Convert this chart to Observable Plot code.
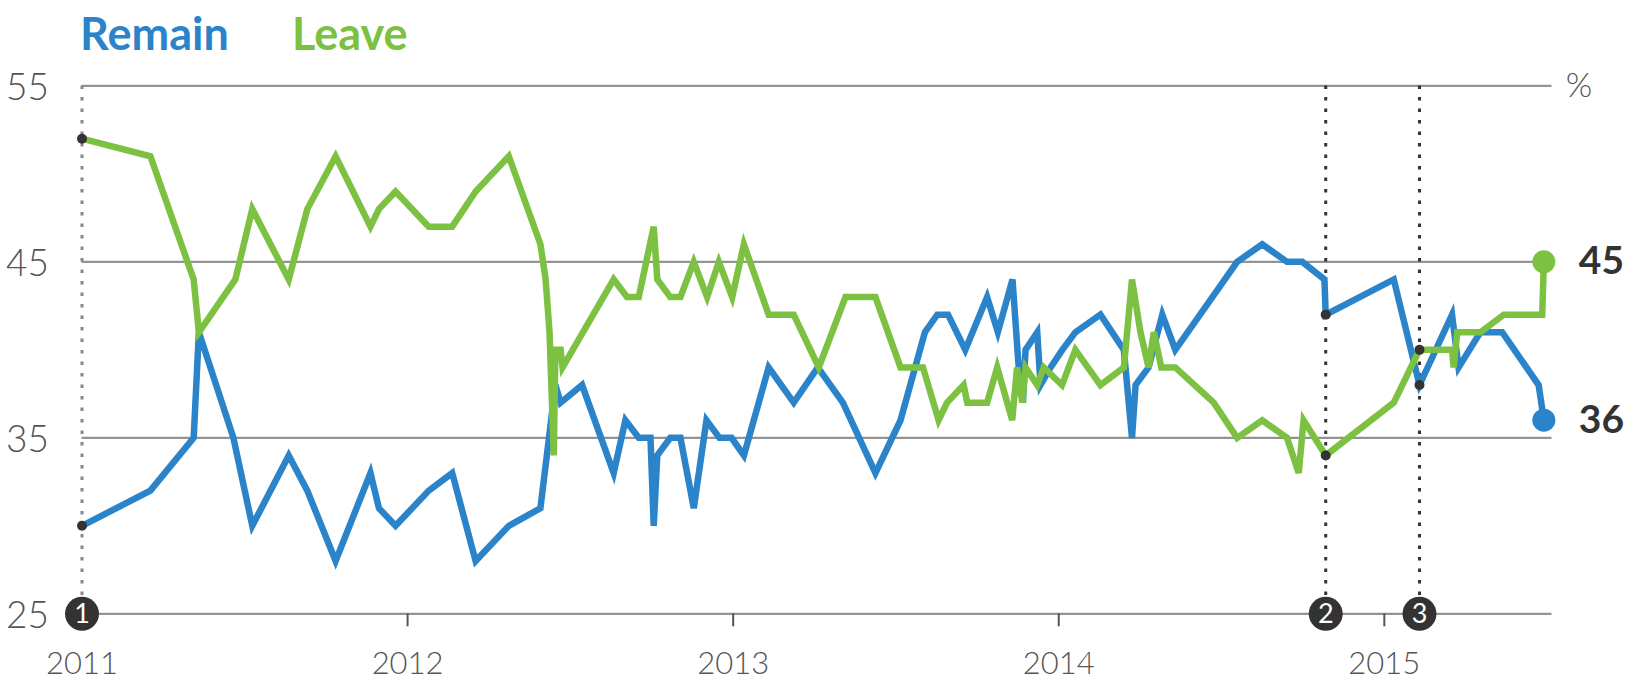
<!DOCTYPE html>
<html><head><meta charset="utf-8">
<script src="https://cdn.jsdelivr.net/npm/d3@7"></script>
<script src="https://cdn.jsdelivr.net/npm/@observablehq/plot@0.6"></script>
<style>
body{margin:0;background:#fff;font-family:Lato,"Open Sans",sans-serif;}
#legend{position:relative;height:62px;width:1633px;}
#legend span{position:absolute;top:6px;font-weight:700;font-size:45px;line-height:54px;}
</style></head><body>
<div id="legend"></div>
<div id="chart"></div>
<script>
// Series names and colours
const seriesNames = ["Remain", "Leave"];
const seriesColors = ["#2b84c9", "#7cc142"];

// Poll dates (decimal years) and values, %
const remainDates = [2011.000,2011.210,2011.343,2011.359,2011.465,2011.523,2011.635,2011.692,2011.779,2011.886,2011.912,2011.963,2012.065,2012.137,2012.209,2012.311,2012.408,2012.454,2012.470,2012.536,2012.633,2012.669,2012.710,2012.746,2012.756,2012.767,2012.807,2012.838,2012.879,2012.918,2012.958,2012.995,2013.033,2013.109,2013.186,2013.260,2013.337,2013.437,2013.514,2013.589,2013.627,2013.660,2013.713,2013.780,2013.813,2013.858,2013.877,2013.890,2013.898,2013.934,2013.944,2013.975,2014.011,2014.051,2014.128,2014.200,2014.225,2014.236,2014.276,2014.318,2014.358,2014.548,2014.625,2014.701,2014.748,2014.816,2014.820,2015.029,2015.108,2015.208,2015.228,2015.295,2015.362,2015.474,2015.490];
const remainValues = [30,32,35,41,35,30,34,32,28,33,31,30,32,33,28,30,31,38,37,38,33,36,35,35,30,34,35,35,31,36,35,35,34,39,37,39,37,33,36,41,42,42,40,43,41,44,39,37,40,41,38,39,40,41,42,40,35,38,39,42,40,45,46,45,45,44,42,44,38,42,39,41,41,38,36];

const leaveDates = [2011.000,2011.210,2011.343,2011.359,2011.471,2011.523,2011.635,2011.692,2011.779,2011.886,2011.912,2011.963,2012.065,2012.137,2012.209,2012.311,2012.408,2012.424,2012.436,2012.449,2012.454,2012.470,2012.476,2012.633,2012.674,2012.710,2012.756,2012.767,2012.807,2012.838,2012.879,2012.920,2012.956,2012.997,2013.033,2013.109,2013.186,2013.263,2013.345,2013.437,2013.514,2013.583,2013.631,2013.657,2013.708,2013.719,2013.780,2013.811,2013.857,2013.872,2013.888,2013.898,2013.934,2013.954,2014.010,2014.051,2014.128,2014.200,2014.225,2014.251,2014.276,2014.292,2014.315,2014.358,2014.476,2014.548,2014.625,2014.701,2014.737,2014.752,2014.820,2015.029,2015.108,2015.208,2015.213,2015.224,2015.295,2015.367,2015.485,2015.490];
const leaveValues = [52,51,44,41,44,48,44,48,51,47,48,49,47,47,49,51,46,44,41,34,40,40,39,44,43,43,47,44,43,43,45,43,45,43,46,42,42,39,43,43,39,39,36,37,38,37,37,39,36,39,37,39,38,39,38,40,38,39,44,41,39,41,39,39,37,35,36,35,33,36,34,37,40,40,39,41,41,42,42,45];

// Numbered events
const eventDates = [2011.000, 2014.820, 2015.108];
const eventLabels = ["1", "2", "3"];
const eventRemain = [30, 42, 38];
const eventLeave = [52, 34, 40];

// Axes
const yTicks = [25, 35, 45, 55];
const xTicks = [2011, 2012, 2013, 2014, 2015];
const xEnd = 2015.515;
const unitLabel = "%";

// Legend
const legend = document.getElementById("legend");
const legendLeft = [80, 292];
seriesNames.forEach((name, i) => {
  const s = document.createElement("span");
  s.textContent = name;
  s.style.left = legendLeft[i] + "px";
  s.style.color = seriesColors[i];
  legend.appendChild(s);
});

const remain = remainDates.map((d, i) => ({date: d, value: remainValues[i]}));
const leave = leaveDates.map((d, i) => ({date: d, value: leaveValues[i]}));
const events = eventDates.map((d, i) => ({date: d, label: eventLabels[i]}));
const eventPoints = events.flatMap((e, i) => [
  {date: e.date, value: eventRemain[i]},
  {date: e.date, value: eventLeave[i]}
]);
const lasts = [
  {...remain[remain.length - 1], color: seriesColors[0]},
  {...leave[leave.length - 1], color: seriesColors[1]}
];
const yMin = yTicks[0], yMax = yTicks[yTicks.length - 1];

const chart = Plot.plot({
  width: 1633,
  height: 619,
  marginTop: 23.4,
  marginBottom: 67.7,
  marginLeft: 81.5,
  marginRight: 81.5,
  x: {domain: [xTicks[0], xEnd]},
  y: {domain: [yMin, yMax]},
  style: {fontFamily: "Lato, 'Open Sans', sans-serif", background: "#fff", overflow: "visible"},
  marks: [
    Plot.ruleY(yTicks, {stroke: "#939393", strokeWidth: 2.2}),
    Plot.ruleX(events, {x: "date", y1: yMax, y2: yMin,
      stroke: d => d.label === "1" ? "#888" : "#333",
      strokeWidth: 3, strokeDasharray: "3.5,8"}),
    Plot.axisY({ticks: yTicks, tickSize: 0, tickPadding: 33, fontSize: 37, fontWeight: 300, color: "#555", label: null, dy: 2}),
    Plot.axisX({ticks: xTicks, tickFormat: d3.format("d"), tickSize: 13, tickPadding: 25, fontSize: 31, fontWeight: 300, color: "#555", strokeWidth: 2, label: null}),
    Plot.line(remain, {x: "date", y: "value", stroke: seriesColors[0], strokeWidth: 6.5, strokeLinejoin: "miter", strokeMiterlimit: 4}),
    Plot.line(leave, {x: "date", y: "value", stroke: seriesColors[1], strokeWidth: 6.5, strokeLinejoin: "miter", strokeMiterlimit: 4}),
    Plot.dot(eventPoints, {x: "date", y: "value", r: 5, fill: "#333"}),
    Plot.dot(lasts, {x: "date", y: "value", r: 11.5, fill: "color"}),
    Plot.text(lasts, {x: "date", y: "value", text: d => String(d.value), dx: 35, textAnchor: "start", fontSize: 39, fontWeight: 700, fill: "#333"}),
    Plot.text([{date: xEnd, value: yMax, label: unitLabel}], {x: "date", y: "value", text: "label", dx: 27, fontSize: 34, fontWeight: 300, fill: "#555"}),
    Plot.dot(events, {x: "date", y: () => yMin, r: 17, fill: "#333"}),
    Plot.text(events, {x: "date", y: () => yMin, text: "label", fill: "#fff", fontSize: 27, dy: 1})
  ]
});
document.getElementById("chart").appendChild(chart);
</script>
</body></html>
